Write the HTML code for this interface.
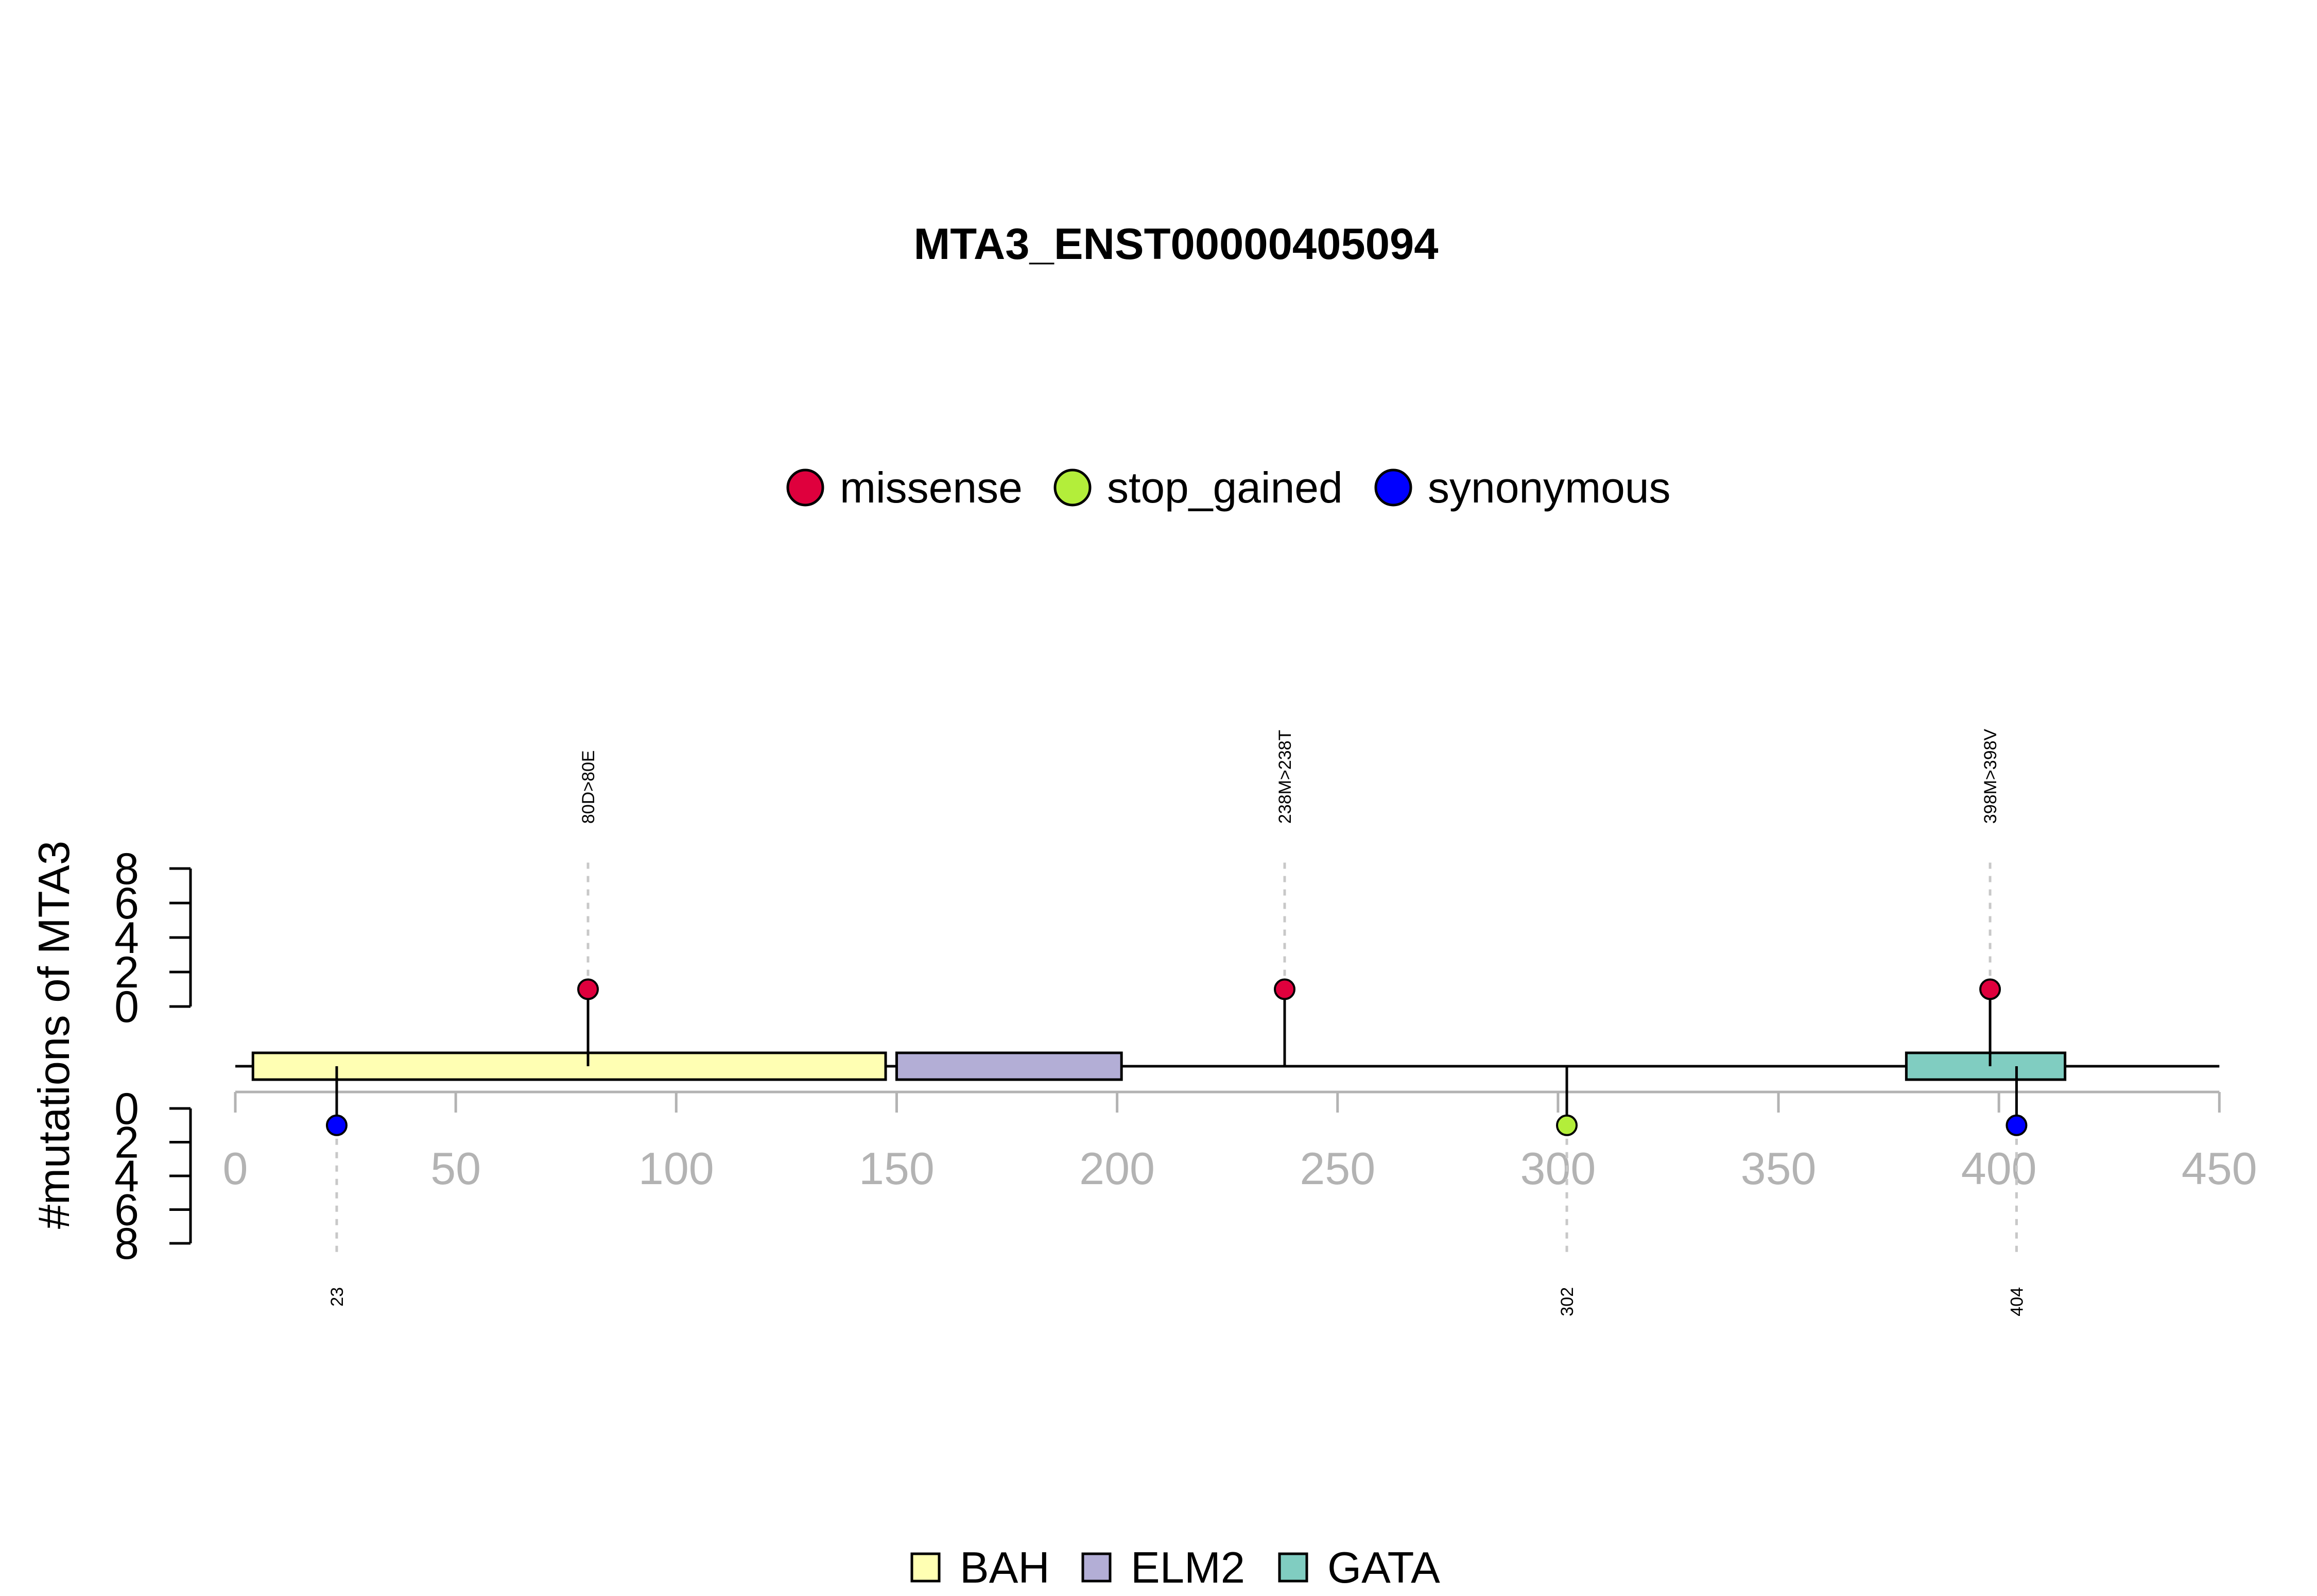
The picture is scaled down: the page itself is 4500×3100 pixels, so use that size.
<!DOCTYPE html>
<html><head><meta charset="utf-8"><style>
html,body{margin:0;padding:0;background:#fff;width:4500px;height:3100px;overflow:hidden}
svg{display:block;font-family:"Liberation Sans",Arial,sans-serif}
</style></head><body>
<svg id="chart" width="4500" height="3100" viewBox="0 0 4500 3100" xmlns="http://www.w3.org/2000/svg">
<text x="2284" y="503" text-anchor="middle" font-size="85" font-weight="bold">MTA3_ENST00000405094</text>
<g id="top-legend"></g>
<g id="bottom-legend"></g>
<text transform="translate(134,2010) rotate(-90)" text-anchor="middle" font-size="85">#mutations of MTA3</text>
<g id="plot"></g>
</svg>
<script>
const mutPos = [80, 238, 398, 23, 302, 404];
const mutCount = [1, 1, 1, 1, 1, 1];
const mutType = ["missense","missense","missense","synonymous","stop_gained","synonymous"];
const mutLabel = ["80D>80E","238M>238T","398M>398V","23","302","404"];
const mutUp = [true, true, true, false, false, false];
const domainNames = ["BAH","ELM2","GATA"];
const domainStart = [4, 150, 379];
const domainEnd = [147.5, 201, 415];
const xTicks = [0,50,100,150,200,250,300,350,400,450];
const yTicks = [0,2,4,6,8];
const typeNames = ["missense","stop_gained","synonymous"];

const typeColor = {missense:"#DF003D", stop_gained:"#B3EE3A", synonymous:"#0000FF"};
const domColor = {BAH:"#FFFFB3", ELM2:"#B3AED6", GATA:"#80CDC1"};
const NS = "http://www.w3.org/2000/svg";
const X = v => 457 + v * 8.563;
const yUp = v => 1955 - v * 33.5;
const yDn = v => 2153 + v * 32.75;
const backY = 2071;
function mk(tag, attrs, parent){ const e=document.createElementNS(NS,tag); for(const k in attrs) e.setAttribute(k,attrs[k]); parent.appendChild(e); return e; }
const plot = document.getElementById('plot');

[[yUp,"upper"],[yDn,"lower"]].forEach(([f,nm])=>{
  const ax = mk('line',{x1:370,x2:370,y1:f(0),y2:f(8),stroke:'#000','stroke-width':5},plot);
  
  
  yTicks.forEach(t=>{
    const tl = mk('line',{x1:329,x2:370,y1:f(t),y2:f(t),stroke:'#000','stroke-width':5},plot);
    
    
    const tx = mk('text',{x:270,y:f(t)+30,'text-anchor':'end','font-size':86},plot);
    tx.textContent = t;
    
    
  });
});

const xa = mk('line',{x1:X(0),x2:X(450),y1:2121,y2:2121,stroke:'#b3b3b3','stroke-width':5},plot);


xTicks.forEach(t=>{
  const tl = mk('line',{x1:X(t),x2:X(t),y1:2121,y2:2161,stroke:'#b3b3b3','stroke-width':5},plot);
  
  
  const tx = mk('text',{x:X(t),y:2300,'text-anchor':'middle','font-size':88,fill:'#b3b3b3'},plot);
  tx.textContent = t;
  
  
});

const bb = mk('line',{x1:X(0),x2:X(450),y1:backY,y2:backY,stroke:'#000','stroke-width':5},plot);



domainNames.forEach((d,i)=>{
  const r = mk('rect',{x:X(domainStart[i]),y:2045,width:X(domainEnd[i])-X(domainStart[i]),height:52,fill:domColor[d],stroke:'#000','stroke-width':5},plot);
  
  
});

mutPos.forEach((p,i)=>{
  const x = X(p);
  const up = mutUp[i];
  const py = up ? yUp(mutCount[i]) : yDn(mutCount[i]);
  const dl = mk('line',{x1:x,x2:x,y1:py,y2:up?1675:2432,stroke:'#c8c8c8','stroke-width':5,'stroke-dasharray':'12 14'},plot);
  
  
  const st = mk('line',{x1:x,x2:x,y1:backY,y2:py,stroke:'#000','stroke-width':5},plot);
  
  
  const c = mk('circle',{cx:x,cy:py,r:19,fill:typeColor[mutType[i]],stroke:'#000','stroke-width':4},plot);
  
  
  const ty = up ? 1600 : 2500;
  const t = mk('text',{transform:`translate(${x+12},${ty}) rotate(-90)`,'text-anchor':up?'start':'end','font-size':34},plot);
  t.textContent = mutLabel[i];
  
  
});

const tl = document.getElementById('top-legend');
const legCx = [1564, 2083, 2706];
typeNames.forEach((n,i)=>{
  const c = mk('circle',{cx:legCx[i],cy:947,r:34,fill:typeColor[n],stroke:'#000','stroke-width':5},tl);
  
  
  const t = mk('text',{x:legCx[i]+67,y:976,'font-size':84},tl);
  t.textContent = n;
  
  
});

const bl = document.getElementById('bottom-legend');
const bx = [1771, 2103, 2485];
domainNames.forEach((d,i)=>{
  const r = mk('rect',{x:bx[i],y:3018,width:53,height:53,fill:domColor[d],stroke:'#000','stroke-width':5},bl);
  
  
  const t = mk('text',{x:bx[i]+93,y:3074,'font-size':85},bl);
  t.textContent = d;
  
  
});
</script>
</body></html>
